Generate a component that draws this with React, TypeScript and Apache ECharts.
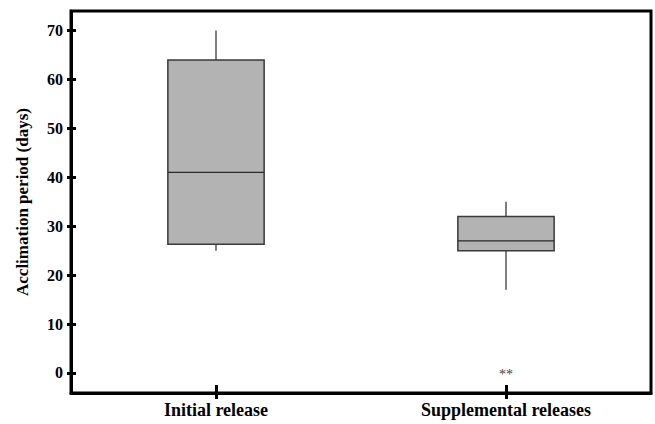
import React, { useEffect, useRef } from "react";
import * as echarts from "echarts";

const categories = ["Initial release", "Supplemental releases"];
// [min, Q1, median, Q3, max]
const boxValues = [
  [25, 26.3, 41, 64, 70],
  [17, 25, 27, 32, 35],
];
// outliers: [categoryIndex, value, count]
const outliers = [[1, 0, 2]];
const yTicks = [0, 10, 20, 30, 40, 50, 60, 70];
const yMin = -4.1;
const yMax = 74;

const FONT = "'Liberation Serif', 'DejaVu Serif', serif";

export default function App() {
  const ref = useRef<HTMLDivElement>(null);
  useEffect(() => {
    if (!ref.current) return;
    const chart = echarts.init(ref.current, null, { renderer: "svg" });
    const boxData = boxValues.map((v, i) => [i, ...v]);
    const yAxisBase = {
      type: "value" as const,
      min: yMin,
      max: yMax,
      splitLine: { show: false },
    };
    chart.setOption({
      animation: false,
      backgroundColor: "#fff",
      grid: {
        left: 71,
        top: 11,
        right: 4,
        bottom: 31,
        show: true,
        borderColor: "#000",
        borderWidth: 3,
        backgroundColor: "transparent",
      },
      xAxis: [
        {
          type: "category",
          data: categories,
          boundaryGap: true,
          axisLine: { onZero: false, lineStyle: { color: "#000", width: 3 } },
          axisTick: { show: true, interval: 0, alignWithLabel: true, length: 6, lineStyle: { color: "#000", width: 3 } },
          axisLabel: {
            color: "#000",
            fontFamily: FONT,
            fontWeight: "bold",
            fontSize: 18,
            margin: 8,
          },
          splitLine: { show: false },
        },
        {
          type: "category",
          data: categories,
          position: "bottom",
          boundaryGap: true,
          axisLine: { show: false, onZero: false },
          axisTick: { show: true, interval: 0, inside: true, alignWithLabel: true, length: 8, lineStyle: { color: "#000", width: 3 } },
          axisLabel: { show: false },
          splitLine: { show: false },
        },
      ],
      yAxis: [
        {
          ...yAxisBase,
          name: "Acclimation period (days)",
          nameLocation: "middle",
          nameGap: 40,
          nameTextStyle: {
            color: "#000",
            fontFamily: FONT,
            fontWeight: "bold",
            fontSize: 17,
          },
          axisLine: { show: true, onZero: false, lineStyle: { color: "#000", width: 3 } },
          axisTick: { show: true, length: 4, customValues: yTicks, lineStyle: { color: "#000", width: 3 } },
          axisLabel: {
            customValues: yTicks,
            color: "#000",
            fontFamily: FONT,
            fontWeight: "bold",
            fontSize: 16,
            margin: 8,
          },
        },
        {
          ...yAxisBase,
          position: "left",
          axisLine: { show: false, onZero: false },
          axisTick: { show: true, inside: true, length: 5, customValues: yTicks, lineStyle: { color: "#000", width: 3 } },
          axisLabel: { show: false, customValues: yTicks },
        },
      ],
      series: [
        {
          type: "custom",
          xAxisIndex: 0,
          yAxisIndex: 0,
          data: boxData,
          encode: { x: 0, y: [1, 2, 3, 4, 5] },
          renderItem: (params: any, api: any) => {
            const cat = api.value(0);
            const pMin = api.coord([cat, api.value(1)]);
            const pQ1 = api.coord([cat, api.value(2)]);
            const pMed = api.coord([cat, api.value(3)]);
            const pQ3 = api.coord([cat, api.value(4)]);
            const pMax = api.coord([cat, api.value(5)]);
            const x = pMin[0];
            const halfW = api.size([1, 0])[0] * 0.166;
            const stroke = "#3a3a3a";
            return {
              type: "group",
              children: [
                {
                  type: "line",
                  shape: { x1: x, y1: pMax[1], x2: x, y2: pQ3[1] },
                  style: { stroke, lineWidth: 1.3 },
                },
                {
                  type: "line",
                  shape: { x1: x, y1: pQ1[1], x2: x, y2: pMin[1] },
                  style: { stroke, lineWidth: 1.3 },
                },
                {
                  type: "rect",
                  shape: { x: x - halfW, y: pQ3[1], width: halfW * 2, height: pQ1[1] - pQ3[1] },
                  style: { fill: "#b3b3b3", stroke, lineWidth: 1.5 },
                },
                {
                  type: "line",
                  shape: { x1: x - halfW, y1: pMed[1], x2: x + halfW, y2: pMed[1] },
                  style: { stroke: "#2a2a2a", lineWidth: 1.3 },
                },
              ],
            };
          },
        },
        {
          type: "custom",
          xAxisIndex: 0,
          yAxisIndex: 0,
          data: outliers,
          encode: { x: 0, y: 1 },
          renderItem: (params: any, api: any) => {
            const p = api.coord([api.value(0), api.value(1)]);
            const n = api.value(2);
            return {
              type: "text",
              x: p[0],
              y: p[1] + 2,
              style: {
                text: "*".repeat(n),
                fontFamily: FONT,
                fontSize: 14,
                fill: "#444",
                align: "center",
                verticalAlign: "middle",
              },
            };
          },
        },
      ],
    });
    return () => chart.dispose();
  }, []);
  return (
    <div
      ref={ref}
      style={{ position: "fixed", left: 0, top: 0, width: 655, height: 424, background: "#fff" }}
    />
  );
}
